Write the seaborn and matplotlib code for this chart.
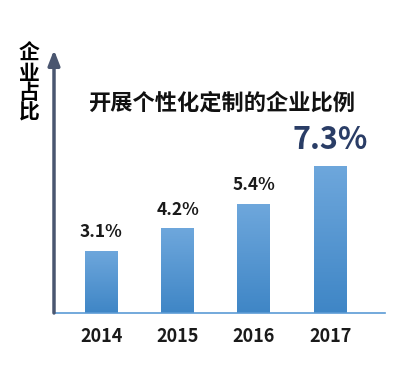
import numpy as np
import pandas as pd
import matplotlib
matplotlib.use('Agg')
import matplotlib.pyplot as plt
import seaborn as sns
from matplotlib.colors import LinearSegmentedColormap

years = ['2014', '2015', '2016', '2017']
share = [3.1, 4.2, 5.4, 7.3]
labels = ['3.1%', '4.2%', '5.4%', '7.3%']
title = '开展个性化定制的企业比例'
ylabel = '企业占比'

sns.set_style('white')
plt.rcParams['font.family'] = ['Noto Sans CJK SC', 'DejaVu Sans']

df = pd.DataFrame({'year': years, 'share': share})

W, H = 414, 378
fig = plt.figure(figsize=(W / 100, H / 100), dpi=100)
# axes in pixel terms: left 54, right 385, bottom 313, top 50
ax = fig.add_axes([54 / W, (H - 313) / H, (385 - 54) / W, (313 - 50) / H])

sns.barplot(data=df, x='year', y='share', color='#5b9bd5', width=0.43, ax=ax)

# vertical gradient on the bars
cmap = LinearSegmentedColormap.from_list('bar', ['#3f86c6', '#6ea7dc'])
grad = np.linspace(0, 1, 100).reshape(-1, 1)
for p in ax.patches:
    x0, y0 = p.get_x(), p.get_y()
    w, h = p.get_width(), p.get_height()
    im = ax.imshow(grad, cmap=cmap, origin='lower', aspect='auto',
                   extent=[x0, x0 + w, y0, y0 + h], zorder=2)
    im.set_clip_path(p)
    p.set_facecolor('none')
    p.set_edgecolor('none')
ax.set_xlim(-0.62, 3.72)
ax.set_ylim(0, 13.05)

texts = ax.bar_label(ax.containers[0], labels=labels, padding=7,
                     fontsize=12.5, fontweight='bold', color='#1a1a1a')
texts[-1].set_fontsize(22)
texts[-1].set_color('#2a3d66')

for s in ['top', 'right', 'left']:
    ax.spines[s].set_visible(False)
ax.spines['bottom'].set_color('#5b9bd5')
ax.spines['bottom'].set_linewidth(1.2)
ax.set_yticks([])
ax.set_xlabel('')
ax.set_ylabel('')
ax.tick_params(axis='x', length=0, pad=10)
for t in ax.get_xticklabels():
    t.set_fontsize(13)
    t.set_fontweight('bold')
    t.set_color('#1a1a1a')

# y axis arrow
ax.annotate('', xy=(0, 1.0), xytext=(0, 0), xycoords='axes fraction',
            arrowprops=dict(arrowstyle='-|>,head_length=0.9,head_width=0.35',
                            color='#4a5670', lw=2.5, shrinkA=0, shrinkB=0),
            annotation_clip=False)

fig.text(222 / W, 1 - 103 / H, title, ha='center', va='center',
         fontsize=16, fontweight='bold', color='#111111')
fig.text(29 / W, 1 - 43 / H, '\n'.join(ylabel), ha='center', va='top',
         fontsize=15, fontweight='bold', color='#000000', linespacing=0.92)

fig.savefig('out.png', dpi=100)
